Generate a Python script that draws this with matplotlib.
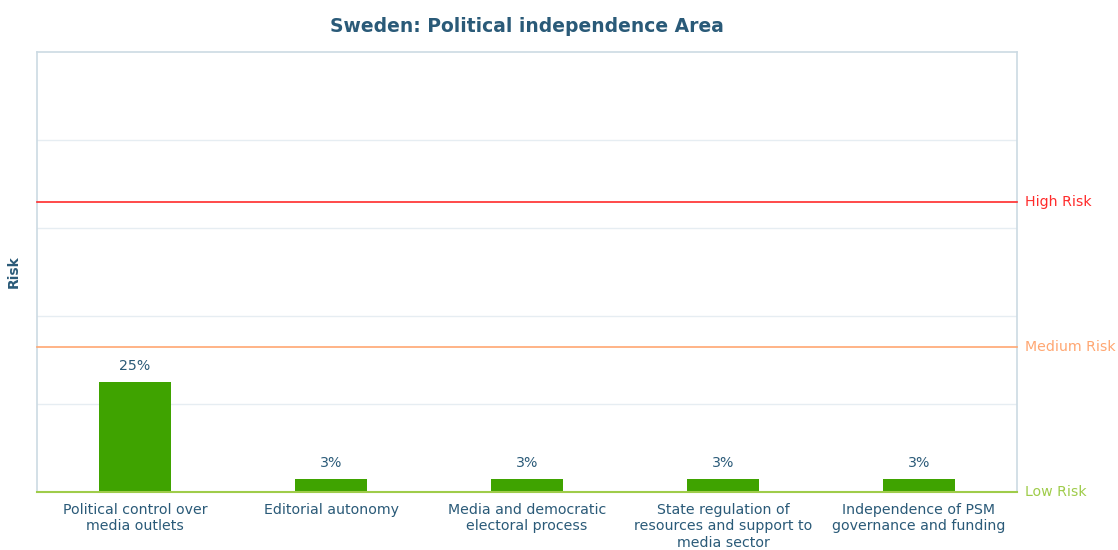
import matplotlib.pyplot as plt
import numpy as np

categories = [
    'Political control over\nmedia outlets',
    'Editorial autonomy',
    'Media and democratic\nelectoral process',
    'State regulation of\nresources and support to\nmedia sector',
    'Independence of PSM\ngovernance and funding',
]
risk_values = [25, 3, 3, 3, 3]
risk_levels = ['Low Risk', 'Medium Risk', 'High Risk']
risk_thresholds = [0, 33, 66]
risk_colors = ['#9fcc4a', '#ffa772', '#ff2b2b']

text_color = '#2a5a78'
bar_color = '#3fa300'
frame_color = '#ccdae3'

fig = plt.figure(figsize=(11.18, 5.5), dpi=100)
ax = fig.add_axes([37 / 1118, 1 - 492 / 550, 980 / 1118, 440 / 550])

x = np.arange(len(categories))
bars = ax.bar(x, risk_values, width=0.37, color=bar_color, zorder=3)
for b, v in zip(bars, risk_values):
    ax.text(b.get_x() + b.get_width() / 2, v + 2, f'{v}%', ha='center', va='bottom',
            color=text_color, fontsize=10.2)

ax.set_xlim(-0.5, len(categories) - 0.5)
ax.set_ylim(0, 100)
ax.set_yticks([20, 40, 60, 80])
ax.yaxis.grid(True, color='#e6edf2', linewidth=1, zorder=0)
ax.tick_params(axis='y', length=0, labelleft=False)
ax.tick_params(axis='x', length=0, pad=8, labelcolor=text_color, labelsize=10.2)
ax.set_xticks(x)
ax.set_xticklabels(categories)

for lvl, thr, col in zip(risk_levels, risk_thresholds, risk_colors):
    ax.axhline(thr, color=col, linewidth=1.5 if thr == 0 else 1.2, zorder=4, clip_on=False)
    ax.text(1.008, thr, lvl, transform=ax.get_yaxis_transform(), color=col,
            fontsize=10.2, va='center', ha='left')

for side in ['left', 'right', 'top']:
    ax.spines[side].set_color(frame_color)
    ax.spines[side].set_linewidth(1.2)
ax.spines['bottom'].set_visible(False)

ax.set_ylabel('Risk', color=text_color, fontsize=10, fontweight='bold', labelpad=12)
fig.suptitle('Sweden: Political independence Area', x=527 / 1118, y=1 - 27 / 550,
             va='center', color=text_color, fontsize=13.5, fontweight='bold')

fig.savefig('out.png', dpi=100)
